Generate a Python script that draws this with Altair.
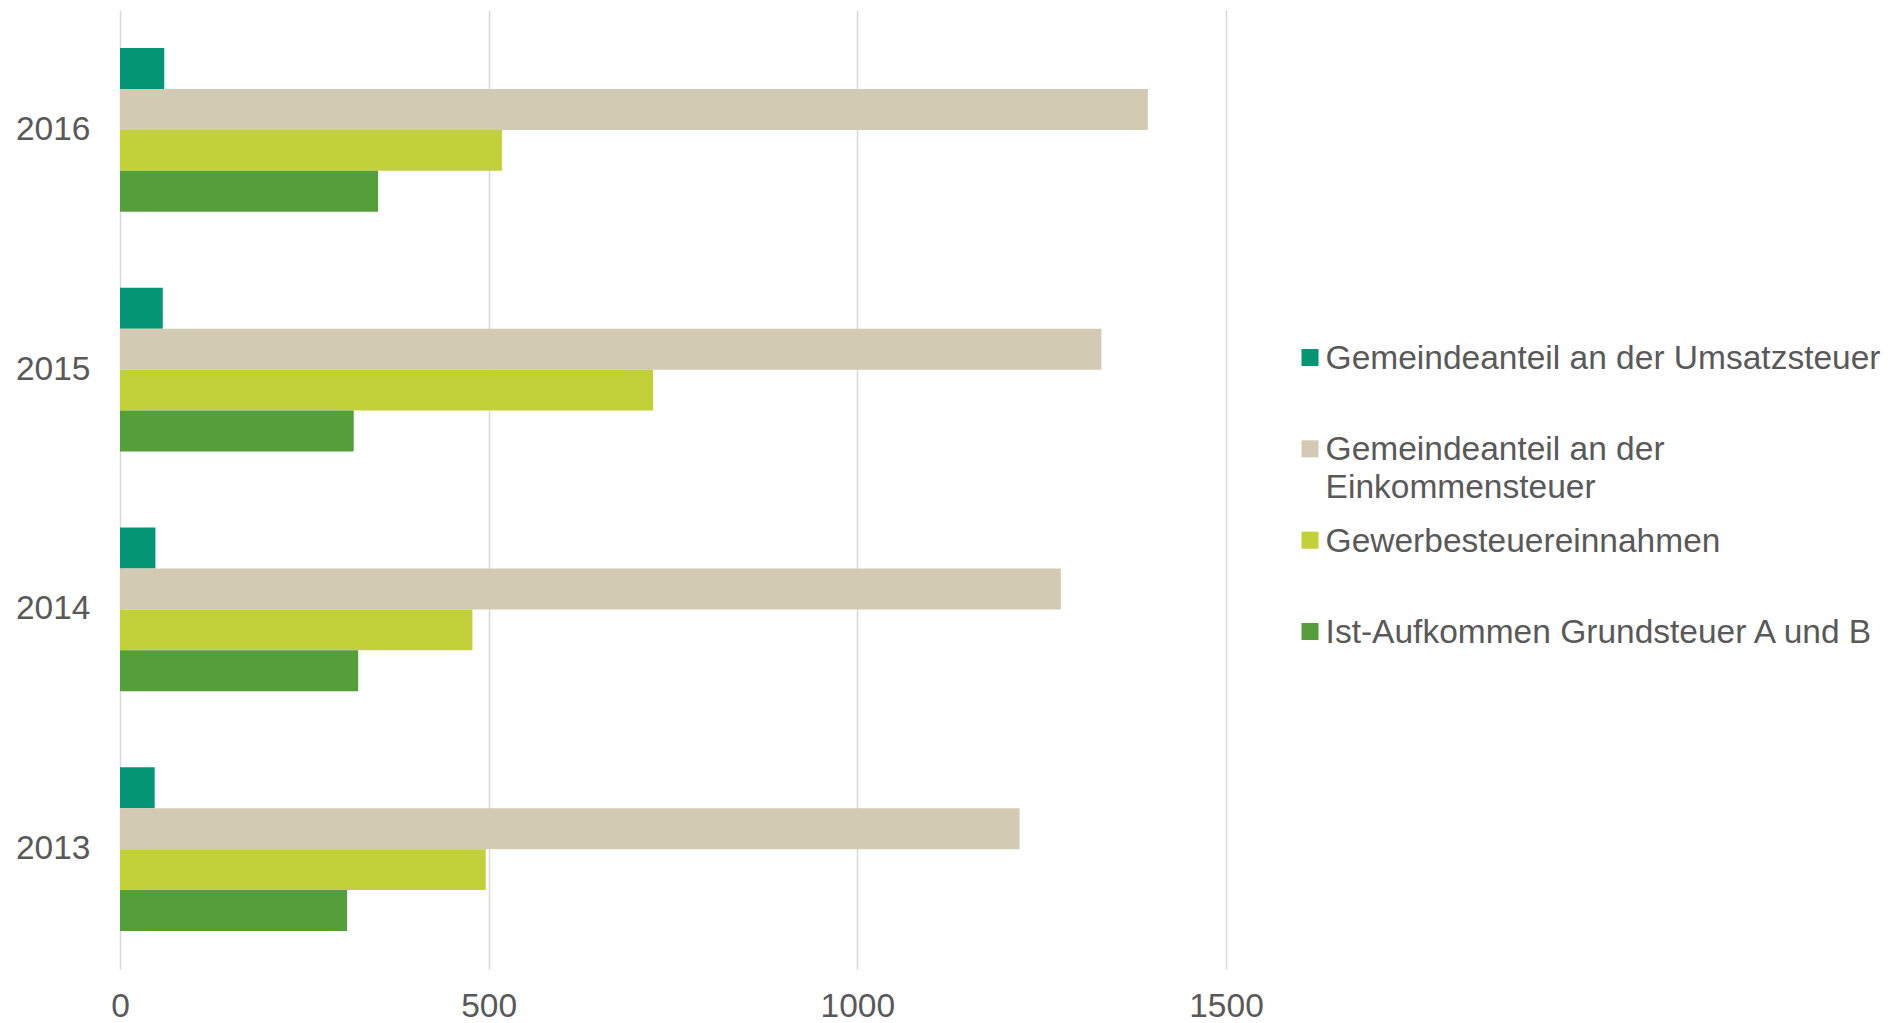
import altair as alt
import pandas as pd

years = ["2013", "2014", "2015", "2016"]
series = [
    "Gemeindeanteil an der Umsatzsteuer",
    "Gemeindeanteil an der Einkommensteuer",
    "Gewerbesteuereinnahmen",
    "Ist-Aufkommen Grundsteuer A und B",
]
legend_labels = [
    "Gemeindeanteil an der Umsatzsteuer",
    "Gemeindeanteil an der\nEinkommensteuer",
    "Gewerbesteuereinnahmen",
    "Ist-Aufkommen Grundsteuer A und B",
]
colors = ["#039574", "#D3CAB4", "#C2D13A", "#559F3A"]

umsatz = [47, 48, 58, 60]
einkommen = [1220, 1276, 1331, 1394]
gewerbe = [496, 478, 723, 518]
grund = [308, 323, 317, 350]
x_ticks = [0, 500, 1000, 1500]

values_by_series = [umsatz, einkommen, gewerbe, grund]
rows = []
for s, vals in zip(series, values_by_series):
    for y, v in zip(years, vals):
        rows.append({"year": y, "series": s, "value": v})
df = pd.DataFrame(rows)

FONT = "Liberation Sans"
TXT = "#595959"
FS = 33.5
color_scale = alt.Scale(domain=series, range=colors)

bars = alt.Chart(df).mark_bar().encode(
    x=alt.X(
        "value:Q",
        scale=alt.Scale(domain=[0, 1500], nice=False),
        axis=alt.Axis(
            values=x_ticks, format="d", title=None, grid=True, ticks=False, domain=False,
            labelFontSize=FS, labelColor=TXT, labelFont=FONT, labelPadding=21,
            labelFlush=False, gridColor="#D9D9D9", gridWidth=1.5,
        ),
    ),
    y=alt.Y(
        "year:N",
        sort=years[::-1],
        scale=alt.Scale(paddingInner=0.318, paddingOuter=0.159),
        axis=alt.Axis(
            title=None, ticks=False, domain=False, labelFontSize=FS,
            labelColor=TXT, labelFont=FONT, labelPadding=30,
        ),
    ),
    yOffset=alt.YOffset("series:N", sort=series, scale=alt.Scale(paddingInner=0, paddingOuter=0)),
    color=alt.Color("series:N", scale=color_scale, legend=None),
).properties(width=1106, height=959)

leg_df = pd.DataFrame({"series": series, "label": legend_labels})
base = alt.Chart(leg_df).encode(
    y=alt.Y(
        "series:N",
        sort=series,
        scale=alt.Scale(type="point", range=[347.5, 621.5], padding=0),
        axis=None,
    )
)
squares = base.mark_square(size=289, opacity=1).encode(
    x=alt.value(3),
    color=alt.Color("series:N", scale=color_scale, legend=None),
)
texts = base.mark_text(
    align="left", baseline="top", dy=-14.5, fontSize=FS, lineBreak="\n",
    lineHeight=38, color=TXT, font=FONT,
).encode(x=alt.value(18.6), text="label:N")
legend = (squares + texts).properties(width=570, height=959)

chart = (
    alt.hconcat(bars, legend, spacing=37)
    .configure_view(stroke=None)
    .properties(padding={"left": 7, "top": 2, "right": 0, "bottom": 0}, background="white")
)

chart.save("out.html", embed_options={"renderer": "svg", "actions": False})
